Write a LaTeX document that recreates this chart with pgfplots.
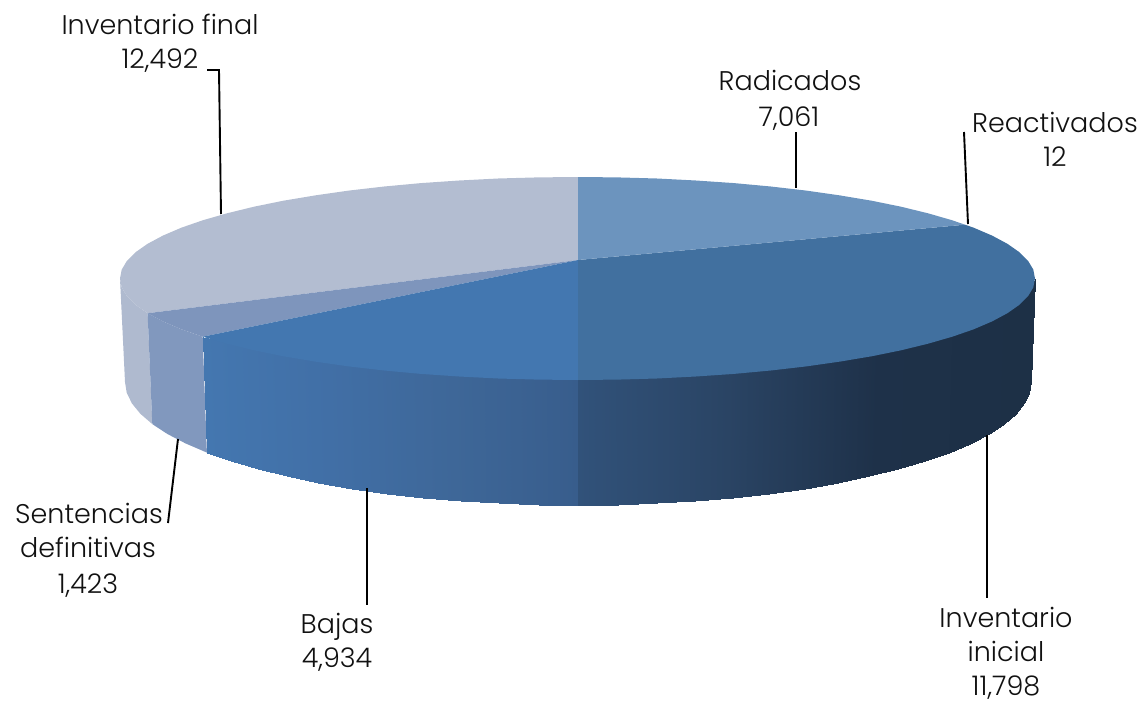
\documentclass[border=0pt]{standalone}
\usepackage{fontspec}
\setmainfont{Poppins}[UprightFont={* Light}]
\usepackage{pgfplots}
\pgfplotsset{compat=1.18}

\definecolor{finaltop}{HTML}{B3BDD1}
\definecolor{finalside}{HTML}{AFBACF}
\definecolor{senttop}{HTML}{7E95BC}
\definecolor{sentside}{HTML}{8198BE}
\definecolor{bajastop}{HTML}{4377B0}
\definecolor{inicialtop}{HTML}{41709F}
\definecolor{radtop}{HTML}{6C94BE}
\definecolor{labeltext}{HTML}{111111}

% stops 0-3: Bajas wall, stops 4-7: Inventario inicial wall
\pgfplotsset{
  colormap={walls}{rgb255=(68,119,176) rgb255=(65,111,166) rgb255=(62,103,152) rgb255=(56,93,140)
    rgb255=(49,82,122) rgb255=(42,68,100) rgb255=(30,49,73) rgb255=(29,48,70)},
  lead/.style={black, line width=1.9pt},
}
\tikzset{lab/.style={anchor=base, text=labeltext, font=\fontsize{27}{30}\selectfont, inner sep=0pt}}

\begin{document}
\begin{tikzpicture}
\useasboundingbox (0,0) rectangle (1146pt,701pt);
\begin{axis}[
  at={(0,0)}, anchor=south west,
  scale only axis, width=1146pt, height=701pt,
  xmin=0, xmax=1146, ymin=0, ymax=701,
  y dir=reverse,
  hide axis, clip=false,
  colormap name=walls, point meta min=0, point meta max=7,
]

% --- side walls (upper row runs a little under the top face, no seam) ---
% Inventario final
\addplot[fill=finalside, draw=none] coordinates {
  (120,278.5)(121.7,287.4)(126.9,296.1)(135.6,304.8)(147.6,313.2)
  (152.3,424.1)(140.4,413.8)(131.9,403.4)(126.7,392.7)(125,382)
};
% Sentencias definitivas
\addplot[fill=sentside, draw=none] coordinates {
  (147.6,313.2)(162.9,321.4)(181.3,329.3)(202.7,336.7)
  (206.9,452.6)(185.7,443.5)(167.4,434)(152.3,424.1)
};
% Bajas
\addplot[surf, shader=interp, mesh/rows=2, point meta=explicit] table[meta=c] {
x y c
202.7 336.7 0
227 341.7 .19
254 348.3 .41
283.4 354.3 .64
315.1 359.6 .90
348.7 364.4 1.17
384.2 368.5 1.45
421 371.9 1.74
459.1 374.5 2.05
498.1 376.5 2.36
537.6 377.6 2.68
578 378 3
206.9 452.6 0
231 461.1 .19
257.7 469 .41
286.8 476.2 .64
318.2 482.8 .90
351.5 488.5 1.17
386.6 493.5 1.45
423.1 497.6 1.74
460.8 500.8 2.05
499.4 503.1 2.36
538.5 504.5 2.68
578 505 3
};
% Inventario inicial
\addplot[surf, shader=interp, mesh/rows=2, point meta=explicit] table[meta=c] {
x y c
578 378 4
617.4 377.6 4.26
656.9 376.5 4.53
695.9 374.5 4.79
734 371.9 5.04
770.8 368.5 5.29
806.3 364.4 5.52
839.9 359.6 5.75
871.6 354.3 5.96
901 348.3 6.15
928 341.7 6.33
952.3 334.7 6.5
973.7 327.3 6.64
992.1 319.4 6.76
1007.4 311.2 6.86
1019.4 302.8 6.94
1028.1 294.1 7
1033.3 285.4 7
1035 278.5 7
578 505 4
617.5 504.5 4.26
656.6 503.1 4.53
695.2 500.8 4.79
732.9 497.6 5.04
769.4 493.5 5.29
804.5 488.5 5.52
837.8 482.8 5.75
869.2 476.2 5.96
898.3 469 6.15
925 461.1 6.33
949.1 452.6 6.5
970.3 443.5 6.64
988.6 434 6.76
1003.7 424.1 6.86
1015.6 413.8 6.94
1024.1 403.4 7
1029.3 392.7 7
1031 382 7
};

% --- top face ---
% Inventario final
\addplot[fill=finaltop, draw=none] coordinates {
  (578,260)(578,177)(537.6,177.4)(498.1,178.5)(459.1,180.5)(421,183.1)(384.2,186.5)
  (348.7,190.6)(315.1,195.4)(283.4,200.7)(254,206.7)(227,213.3)(202.7,220.3)(181.3,227.7)
  (162.9,235.6)(147.6,243.8)(135.6,252.2)(126.9,260.9)(121.7,269.6)(120,278.5)
  (121.7,287.4)(126.9,296.1)(135.6,304.8)(147.6,313.2)
};
% Sentencias definitivas
\addplot[fill=senttop, draw=none] coordinates {
  (578,260)(147.6,313.2)(162.9,321.4)(181.3,329.3)(202.7,336.7)
};
% Bajas
\addplot[fill=bajastop, draw=none] coordinates {
  (578,260)(202.7,336.7)(227,343.7)(254,350.3)(283.4,356.3)(315.1,361.6)(348.7,366.4)
  (384.2,370.5)(421,373.9)(459.1,376.5)(498.1,378.5)(537.6,379.6)(578,380)
};
% Inventario inicial
\addplot[fill=inicialtop, draw=none] coordinates {
  (578,260)(578,380)(617.4,379.6)(656.9,378.5)(695.9,376.5)(734,373.9)(770.8,370.5)
  (806.3,366.4)(839.9,361.6)(871.6,356.3)(901,350.3)(928,343.7)(952.3,336.7)(973.7,329.3)
  (992.1,321.4)(1007.4,313.2)(1019.4,304.8)(1028.1,296.1)(1033.3,287.4)(1035,278.5)
  (1033.3,269.6)(1028.1,260.9)(1019.4,252.2)(1007.4,243.8)(992.1,235.6)(973.7,227.7)(965,224.7)
};
% Radicados
\addplot[fill=radtop, draw=none] coordinates {
  (578,260)(965,224.7)(952.3,220.3)(928,213.3)(901,206.7)(871.6,200.7)(839.9,195.4)
  (806.3,190.6)(770.8,186.5)(734,183.1)(695.9,180.5)(656.9,178.5)(617.4,177.4)(578,177)
};

% --- leader lines ---
\addplot[lead] coordinates {(207,70)(219,70)(221,214)};
\addplot[lead] coordinates {(796,132)(796,188)};
\addplot[lead] coordinates {(964,132)(968,224)};
\addplot[lead] coordinates {(987,435)(987,598)};
\addplot[lead] coordinates {(367,488)(367,605)};
\addplot[lead] coordinates {(178,439)(168,523)};

% --- labels ---
\node[lab] at (axis cs:160,35) {Inventario final};
\node[lab] at (axis cs:160,69) {12,492};
\node[lab] at (axis cs:790,91) {Radicados};
\node[lab] at (axis cs:789,126) {7,061};
\node[lab] at (axis cs:1055,132) {Reactivados};
\node[lab] at (axis cs:1055,166) {12};
\node[lab] at (axis cs:89,523) {Sentencias};
\node[lab] at (axis cs:88,557) {definitivas};
\node[lab] at (axis cs:88,593) {1,423};
\node[lab] at (axis cs:337,633) {Bajas};
\node[lab] at (axis cs:337,667) {4,934};
\node[lab] at (axis cs:1006,627) {Inventario};
\node[lab] at (axis cs:1006,661) {inicial};
\node[lab] at (axis cs:1006,695) {11,798};
\end{axis}
\end{tikzpicture}
\end{document}
